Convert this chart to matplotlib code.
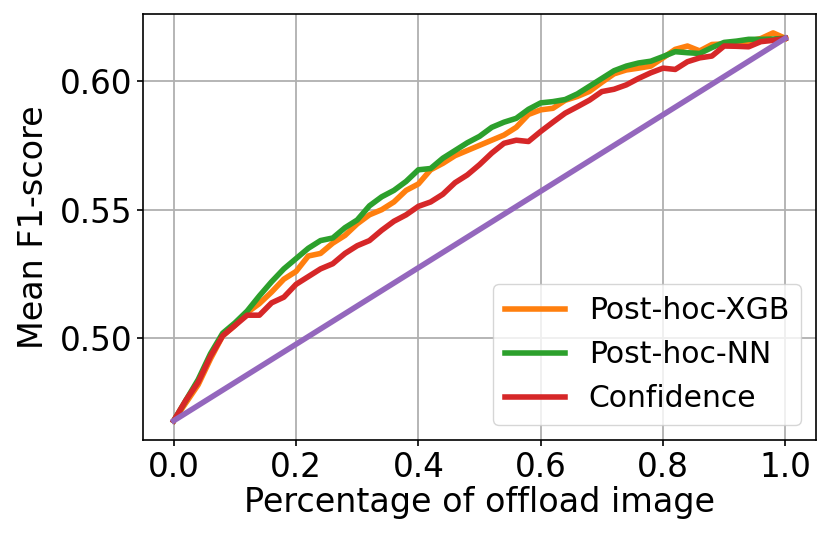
import matplotlib
matplotlib.use("Agg")
import matplotlib.pyplot as plt
import numpy as np

# --- Data ---
offload = np.round(np.arange(0, 1.0001, 0.02), 2)

post_hoc_xgb = [
    0.468, 0.475, 0.482, 0.492, 0.501, 0.505, 0.510, 0.5135, 0.518, 0.523,
    0.526, 0.532, 0.533, 0.537, 0.540, 0.5445, 0.548, 0.550, 0.553, 0.5575,
    0.560, 0.5655, 0.568, 0.571, 0.573, 0.575, 0.577, 0.579, 0.582, 0.587,
    0.5888, 0.5894, 0.5925, 0.594, 0.596, 0.5995, 0.6028, 0.6043, 0.605, 0.6058,
    0.609, 0.6123, 0.6136, 0.6117, 0.6142, 0.6144, 0.6147, 0.6155, 0.6165, 0.6187,
    0.6166,
]
post_hoc_nn = [
    0.468, 0.476, 0.484, 0.494, 0.502, 0.506, 0.5106, 0.5165, 0.522, 0.527,
    0.531, 0.535, 0.538, 0.539, 0.543, 0.546, 0.5515, 0.555, 0.5575, 0.561,
    0.5655, 0.566, 0.570, 0.573, 0.576, 0.5785, 0.582, 0.584, 0.5855, 0.589,
    0.5915, 0.592, 0.5928, 0.595, 0.598, 0.601, 0.604, 0.6058, 0.607, 0.6077,
    0.6095, 0.6114, 0.611, 0.6107, 0.613, 0.615, 0.6155, 0.6162, 0.6162, 0.6163,
    0.6166,
]
confidence = [
    0.468, 0.476, 0.483, 0.493, 0.501, 0.505, 0.509, 0.509, 0.5138, 0.516,
    0.521, 0.524, 0.527, 0.529, 0.533, 0.536, 0.538, 0.542, 0.5455, 0.548,
    0.5513, 0.553, 0.556, 0.5605, 0.5635, 0.5675, 0.572, 0.5758, 0.577, 0.5765,
    0.5804, 0.584, 0.5875, 0.590, 0.5926, 0.5959, 0.5968, 0.5985, 0.601, 0.6032,
    0.605, 0.6045, 0.6075, 0.609, 0.6097, 0.6136, 0.6135, 0.6133, 0.6153, 0.6158,
    0.6166,
]
random_x = [0.0, 1.0]
random_y = [0.468, 0.6166]

# --- Plot ---
fig = plt.figure(figsize=(8.3, 5.4), dpi=100)
ax = fig.add_axes([0.1725, 0.185, 0.8105, 0.79])

ax.plot(offload, post_hoc_xgb, color='tab:orange', lw=4, label='Post-hoc-XGB')
ax.plot(offload, post_hoc_nn, color='tab:green', lw=4, label='Post-hoc-NN')
ax.plot(offload, confidence, color='tab:red', lw=4, label='Confidence')
ax.plot(random_x, random_y, color='tab:purple', lw=4)

ax.set_xticks([0.0, 0.2, 0.4, 0.6, 0.8, 1.0])
ax.set_yticks([0.50, 0.55, 0.60])
ax.grid(True, color='#b0b0b0', lw=1.3)
ax.tick_params(labelsize=23.5, length=4.5, width=1.2)
for s in ax.spines.values():
    s.set_linewidth(1.2)

ax.set_xlabel('Percentage of offload image', fontsize=24, labelpad=1)
ax.set_ylabel('Mean F1-score', fontsize=24, labelpad=7)
ax.legend(loc='lower right', fontsize=21.5, handlelength=2.0)

fig.savefig('out.png', dpi=100)
